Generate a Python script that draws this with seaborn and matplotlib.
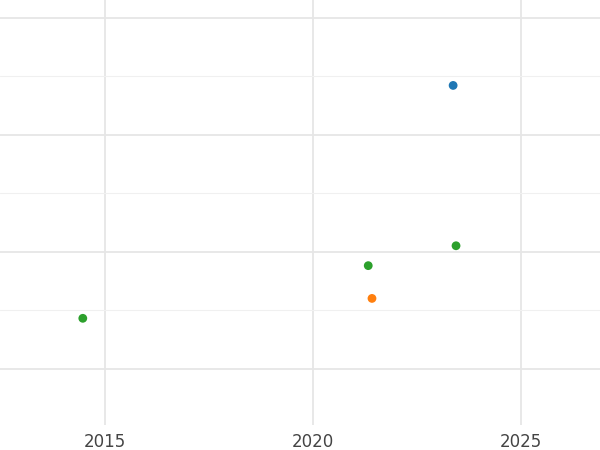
import numpy as np
import pandas as pd
import seaborn as sns
import matplotlib.pyplot as plt
from matplotlib.ticker import MultipleLocator

years = [2023.37, 2023.44, 2021.33, 2021.42, 2014.47]
values = [2.42, 1.05, 0.88, 0.60, 0.43]
groups = ["A", "C", "C", "B", "C"]

df = pd.DataFrame({"year": years, "value": values, "group": groups})

sns.set_style("white")
fig = plt.figure(figsize=(6, 4.5), dpi=100)
ax = fig.add_axes([0, 0.056, 1, 0.944])
sns.scatterplot(data=df, x="year", y="value", hue="group",
                hue_order=["A", "B", "C"],
                palette=["#1f77b4", "#ff7f0e", "#2ca02c"],
                s=40, edgecolor="none", legend=False, ax=ax, zorder=3)

ax.set_xlim(2012.48, 2026.9)
ax.set_ylim(-0.48, 3.15)
ax.xaxis.set_major_locator(MultipleLocator(5))
ax.yaxis.set_major_locator(MultipleLocator(1))
ax.yaxis.set_minor_locator(MultipleLocator(0.5))
ax.grid(which="major", color="#e6e6e6", linewidth=1.3)
ax.grid(which="minor", axis="y", color="#f0f0f0", linewidth=0.8)
ax.set_yticklabels([])
ax.tick_params(axis="both", which="both", length=0)
ax.tick_params(axis="x", labelsize=12, labelcolor="#444444", pad=6)
ax.set_xlabel("")
ax.set_ylabel("")
for s in ax.spines.values():
    s.set_visible(False)

fig.savefig("out.png", dpi=100)
